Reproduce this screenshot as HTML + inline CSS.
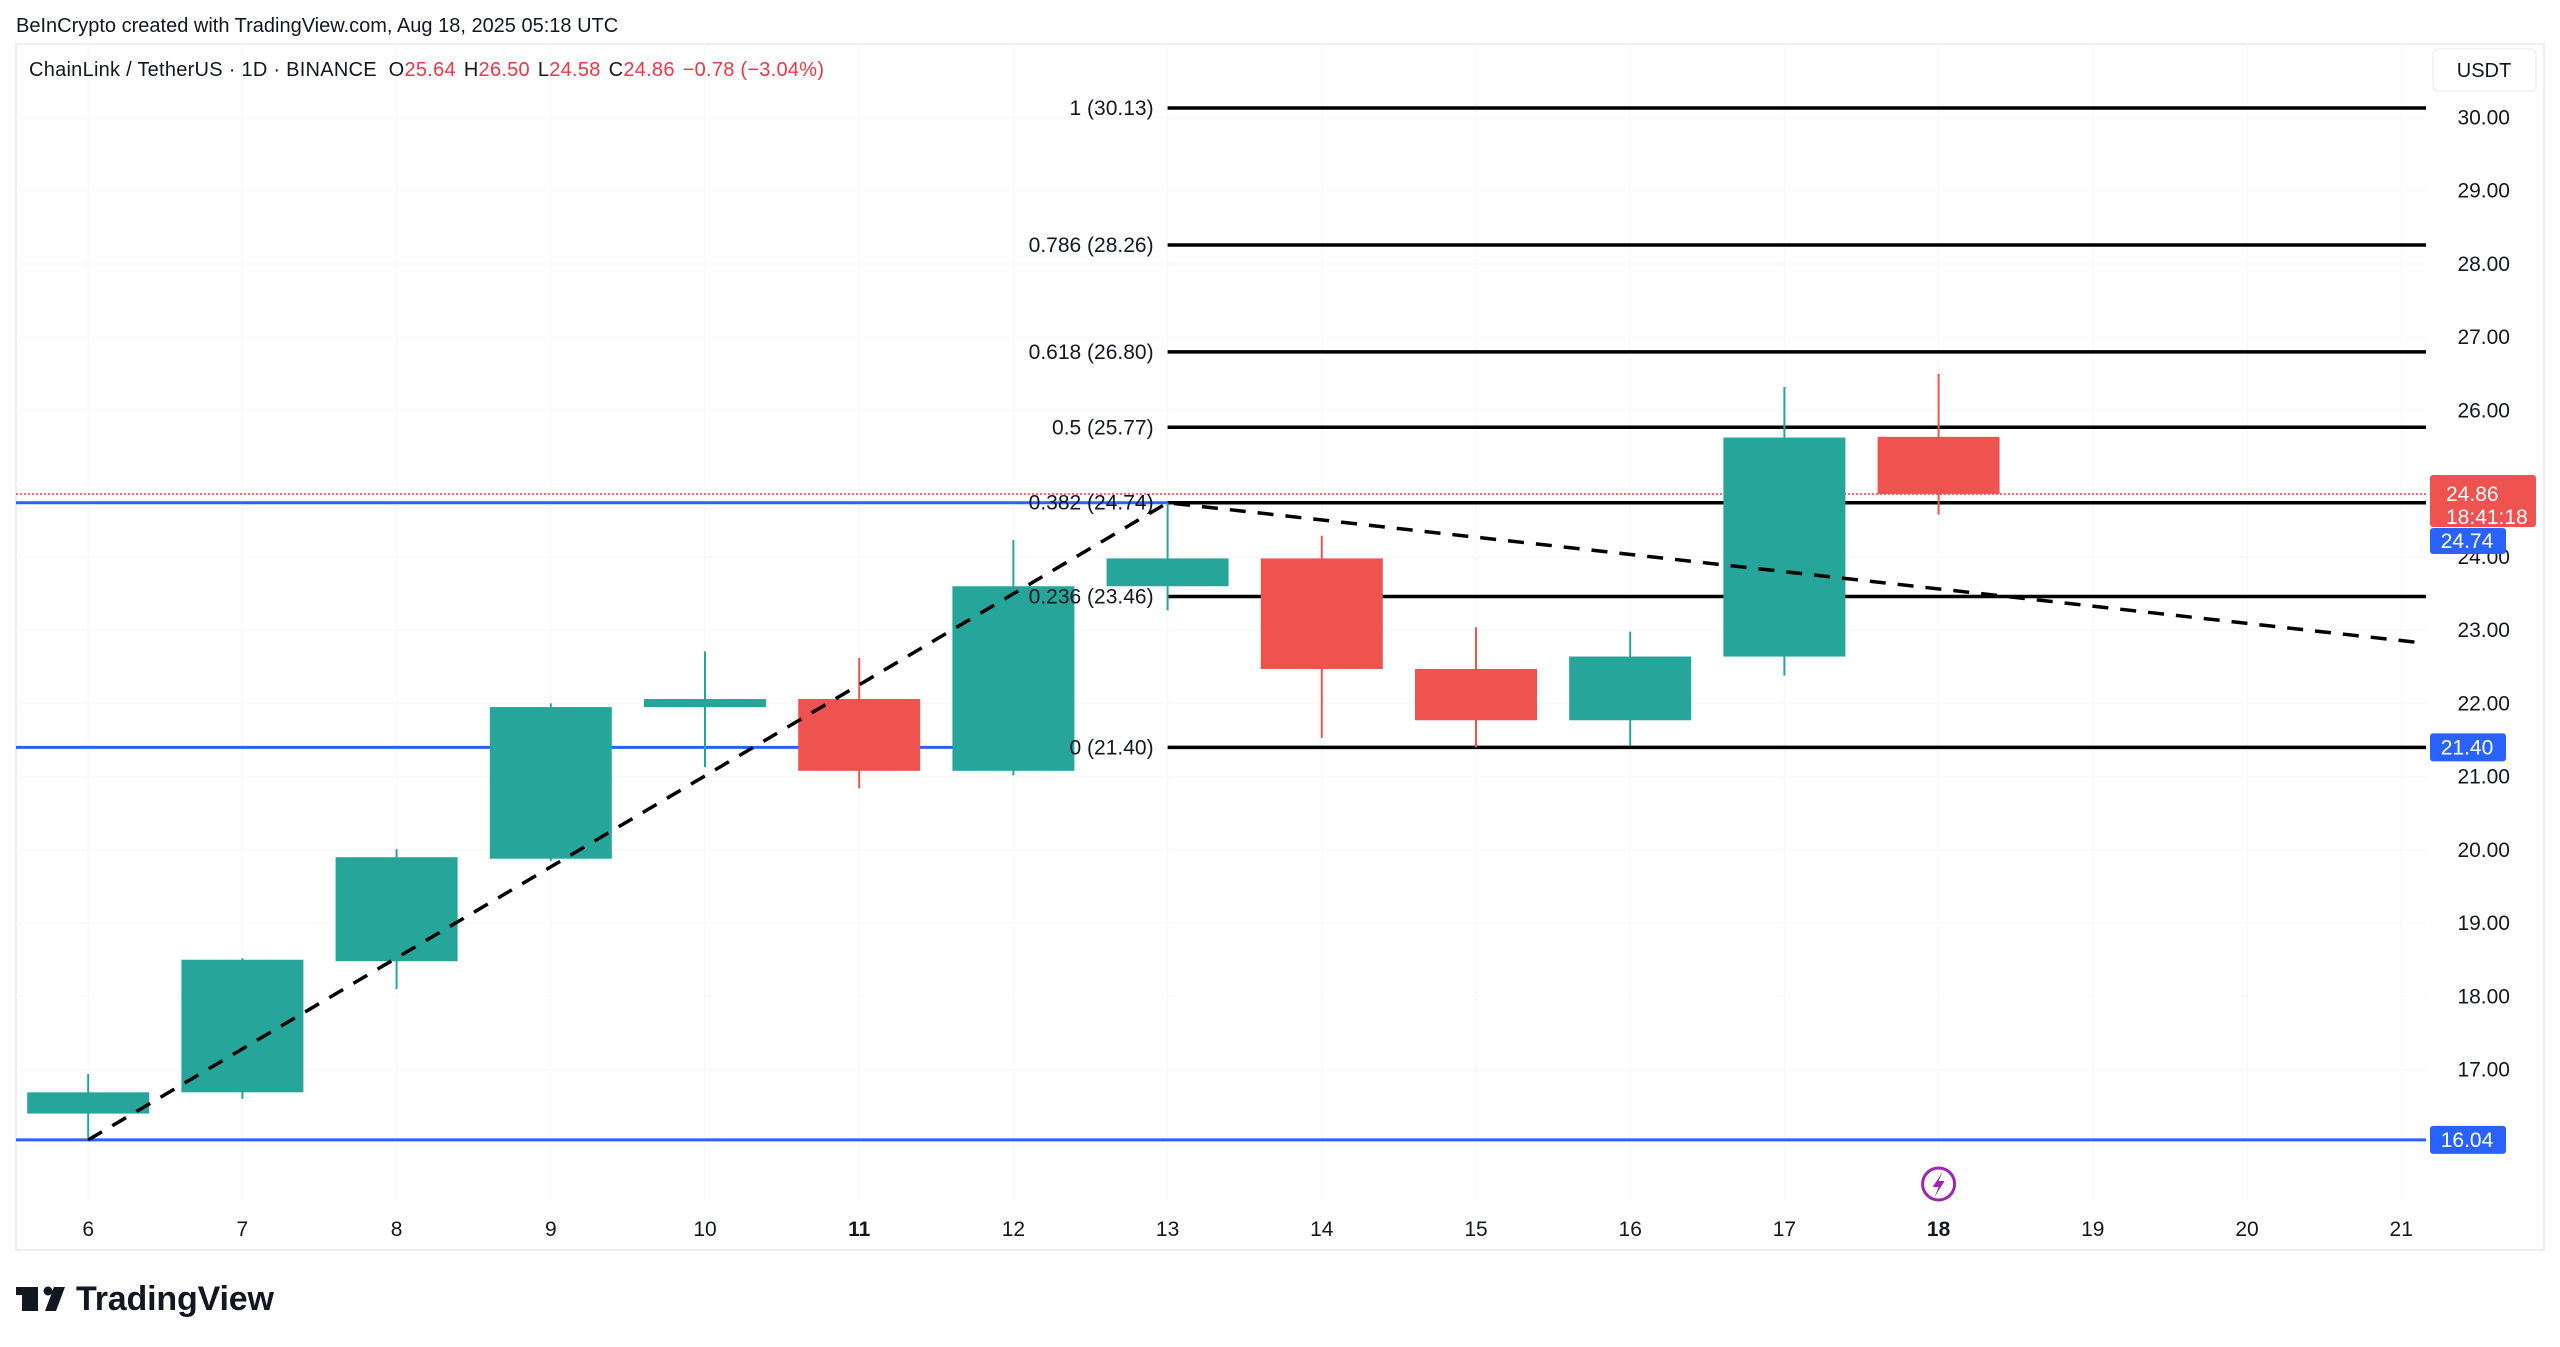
<!DOCTYPE html>
<html><head><meta charset="utf-8"><style>
html,body{margin:0;padding:0;background:#fff;}
svg{display:block;font-family:"Liberation Sans",sans-serif;}
</style></head><body>
<svg id="chart" width="2560" height="1347" viewBox="0 0 2560 1347">
<rect x="0" y="0" width="2560" height="1347" fill="#fff"/>
<text x="16" y="32" font-size="20" fill="#131722">BeInCrypto created with TradingView.com, Aug 18, 2025 05:18 UTC</text>
<rect x="16" y="44" width="2528" height="1206" fill="none" stroke="#eceef2" stroke-width="2"/>
<g id="grid"></g>
<g id="lines"></g>
<g id="candles"></g>
<g id="overlay"></g>
<text x="29" y="76" font-size="20" fill="#131722" textLength="795">ChainLink / TetherUS · 1D · BINANCE <tspan dx="6">O</tspan><tspan fill="#f23645">25.64</tspan><tspan dx="8">H</tspan><tspan fill="#f23645">26.50</tspan><tspan dx="8">L</tspan><tspan fill="#f23645">24.58</tspan><tspan dx="8">C</tspan><tspan fill="#f23645">24.86</tspan><tspan dx="8" fill="#f23645">−0.78 (−3.04%)</tspan></text>
<rect x="2433" y="49" width="103" height="42" rx="5" fill="#fff" stroke="#e6e8ec"/>
<text x="2484" y="77" font-size="20" text-anchor="middle" fill="#131722">USDT</text>
<g>
<rect x="22" y="1287" width="16" height="24" fill="#131722"/><rect x="16" y="1287" width="22" height="8" fill="#131722"/>
<circle cx="48" cy="1291" r="4.5" fill="#131722"/><polygon points="54,1287 65,1287 56,1311 45,1311" fill="#131722"/>
<text x="76" y="1310" font-size="34" font-weight="bold" fill="#131722" textLength="198">TradingView</text>
</g>
</svg>
<script>
const days = [6,7,8,9,10,11,12,13,14,15,16,17,18];
const opens = [16.40,16.69,18.48,19.88,21.95,22.06,21.08,23.60,23.98,22.47,21.77,22.64,25.64];
const highs = [16.94,18.52,20.01,22.00,22.71,22.62,24.23,24.74,24.29,23.04,22.98,26.32,26.50];
const lows  = [16.07,16.60,18.10,19.85,21.13,20.84,21.02,23.27,21.53,21.40,21.42,22.38,24.58];
const closes= [16.69,18.50,19.90,21.95,22.06,21.08,23.60,23.98,22.47,21.77,22.64,25.63,24.86];
const priceTicks = [30,29,28,27,26,25,24,23,22,21,20,19,18,17];
const dateTicks = [6,7,8,9,10,11,12,13,14,15,16,17,18,19,20,21];
const fibRatios = ["1","0.786","0.618","0.5","0.382","0.236","0"];
const fibPrices = [30.13,28.26,26.80,25.77,24.74,23.46,21.40];
const trendDays = [6,13];
const trendPrices = [16.04,24.74];
const trendEndPrice = 22.82;
const lastPrice = 24.86;

const NS="http://www.w3.org/2000/svg";
const Y=p=>117.5+(30-p)*73.24;
const X=d=>88.2+(d-6)*154.2;
const PL=16, PR=2426;
function el(tag,attrs,parent){const e=document.createElementNS(NS,tag);for(const k in attrs)e.setAttribute(k,attrs[k]);parent.appendChild(e);return e;}
const grid=document.getElementById('grid'),lines=document.getElementById('lines'),cg=document.getElementById('candles'),ov=document.getElementById('overlay');

dateTicks.forEach(d=>{
  const l=el('line',{x1:X(d),x2:X(d),y1:44,y2:1200,stroke:'#f8f9fb','stroke-width':1.5},grid);
  
  
  const t=el('text',{x:X(d),y:1236,'font-size':21,'text-anchor':'middle',fill:'#131722','font-weight':(d==11||d==18)?'bold':'normal'},ov);
  t.textContent=d;
  
  
});
priceTicks.forEach(p=>{
  const l=el('line',{x1:PL,x2:PR,y1:Y(p),y2:Y(p),stroke:'#f8f9fb','stroke-width':1.5},grid);
  
  
  const t=el('text',{x:2510,y:Y(p)+7,'font-size':21,'text-anchor':'end',fill:'#131722'},ov);
  t.textContent=p.toFixed(2);
  
  
});

[[fibPrices[4],PL,X(13)],[fibPrices[6],PL,X(12)],[16.04,PL,PR]].forEach(b=>{
  const l=el('line',{x1:b[1],x2:b[2],y1:Y(b[0]),y2:Y(b[0]),stroke:'#2962ff','stroke-width':3},lines);
  
  
});
const lp=el('line',{x1:PL,x2:PR,y1:Y(lastPrice),y2:Y(lastPrice),stroke:'#f23645','stroke-width':1.5,'stroke-dasharray':'2 2'},lines);



fibPrices.forEach((p,i)=>{
  const l=el('line',{x1:X(13),x2:PR,y1:Y(p),y2:Y(p),stroke:'#000','stroke-width':3.5},lines);
  
  
  const t=el('text',{x:X(13)-14,y:Y(p)+7,'font-size':21,'text-anchor':'end',fill:'#131722'},ov);
  t.textContent=fibRatios[i]+' ('+p.toFixed(2)+')';
  
  
});

days.forEach((d,i)=>{
  const up=closes[i]>=opens[i], c=up?'#26a69a':'#ef5350';
  const g=el('g',{},cg);
  
  
  el('line',{x1:X(d),x2:X(d),y1:Y(highs[i]),y2:Y(lows[i]),stroke:c,'stroke-width':2},g);
  const top=Y(Math.max(opens[i],closes[i])),bot=Y(Math.min(opens[i],closes[i]));
  el('rect',{x:X(d)-61,y:top,width:122,height:Math.max(2,bot-top),fill:c},g);
});

const tx0=X(trendDays[0]),ty0=Y(trendPrices[0]),tx1=X(trendDays[1]),ty1=Y(trendPrices[1]);
const tr=el('polyline',{points:`${tx0},${ty0} ${tx1},${ty1} ${PR},${Y(trendEndPrice)}`,fill:'none',stroke:'#000','stroke-width':3.5,'stroke-dasharray':'16 12'},ov);



function tag(p,name){
  const y=Y(p);
  const r=el('rect',{x:2430,y:y-14,width:76,height:28,rx:3,fill:'#2962ff'},ov);
  
  
  const t=el('text',{x:2467,y:y+7,'font-size':21,'text-anchor':'middle',fill:'#fff'},ov);
  t.textContent=p.toFixed(2);
  
  
}
tag(16.04,'price-tag-16-04');
tag(21.40,'price-tag-21-40');
const r2=el('rect',{x:2430,y:Y(lastPrice)-19,width:106,height:52,rx:3,fill:'#ef5350'},ov);


let t=el('text',{x:2446,y:Y(lastPrice)+7,'font-size':21,fill:'#fff'},ov);t.textContent=lastPrice.toFixed(2);
t=el('text',{x:2446,y:Y(lastPrice)+30,'font-size':21,fill:'#fff'},ov);t.textContent='18:41:18';
const r3=el('rect',{x:2430,y:Y(lastPrice)+34,width:76,height:26,rx:3,fill:'#2962ff'},ov);


t=el('text',{x:2467,y:Y(lastPrice)+54,'font-size':21,'text-anchor':'middle',fill:'#fff'},ov);t.textContent=fibPrices[4].toFixed(2);

const li=el('g',{},ov);


el('circle',{cx:X(18),cy:1184,r:16,fill:'#fff',stroke:'#9c27b0','stroke-width':3},li);
el('polygon',{points:`${X(18)+4},1172 ${X(18)-6},1187 ${X(18)},1187 ${X(18)-4},1197 ${X(18)+6},1181 ${X(18)},1181`,fill:'#9c27b0'},li);
</script>
</body></html>
